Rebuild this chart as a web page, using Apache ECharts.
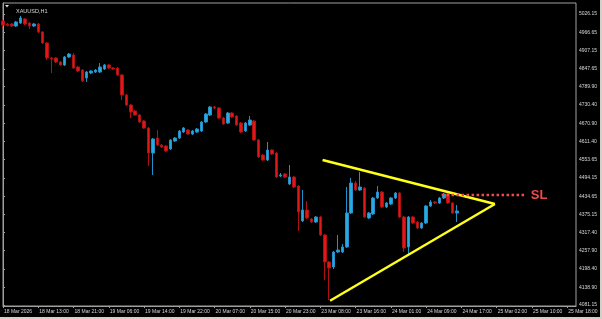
<!DOCTYPE html>
<html>
<head>
<meta charset="utf-8">
<script src="https://cdn.jsdelivr.net/npm/echarts@6/dist/echarts.min.js"></script>
<style>
html,body{margin:0;padding:0;background:#000;}
#c{width:602px;height:319px;}
</style>
</head>
<body>
<div id="c"></div>
<script>
// ---- data ----
const symbolTitle = 'XAUUSD,H1';
const timeLabels = ['18 Mar 2026','18 Mar 13:00','18 Mar 21:00','19 Mar 06:00','19 Mar 14:00','19 Mar 22:00',
  '20 Mar 07:00','20 Mar 15:00','20 Mar 23:00','23 Mar 08:00','23 Mar 16:00','24 Mar 01:00',
  '24 Mar 09:00','24 Mar 17:00','25 Mar 02:00','25 Mar 10:00','25 Mar 18:00'];
const priceTicks = [4081.15,4138.90,4198.40,4257.90,4317.40,4375.15,4434.65,4494.15,4553.65,
  4611.40,4670.90,4730.40,4789.90,4847.65,4907.15,4966.65,5026.15];
// candles: [open, close, low, high]
const candles = [
 [5003.4,4990.4,4983.9,5009.9],[4993.0,4989.0,4986.0,4997.0],[4993.7,4987.2,4984.0,4997.0],[4987.2,5000.2,4984.0,5003.4],
 [4997.0,5013.1,4993.7,5019.6],[5010.0,4993.7,4990.4,5013.0],[4996.9,4987.2,4977.4,5000.0],[4987.2,4993.7,4984.0,4997.0],
 [4993.7,4967.7,4964.4,4997.0],[4967.7,4932.0,4928.7,4971.0],[4932.0,4883.3,4876.8,4935.2],[4883.3,4880.0,4834.5,4886.5],
 [4883.3,4870.3,4867.0,4886.5],[4870.3,4860.5,4857.3,4873.5],[4860.5,4886.5,4857.3,4889.7],[4886.5,4896.2,4883.3,4899.4],
 [4893.0,4850.8,4847.5,4899.4],[4854.0,4841.0,4837.8,4857.3],[4844.3,4808.6,4805.3,4847.5],[4818.3,4837.8,4805.3,4841.0],
 [4834.5,4841.0,4831.3,4844.3],[4837.8,4844.3,4834.5,4847.5],[4837.8,4854.0,4834.5,4867.0],[4847.5,4860.5,4844.3,4863.8],
 [4860.5,4850.8,4847.5,4863.8],[4850.8,4847.5,4844.3,4854.0],[4850.8,4828.0,4824.8,4854.0],[4828.0,4763.1,4746.9,4831.3],
 [4763.1,4730.6,4727.4,4766.4],[4730.6,4707.9,4688.4,4733.9],[4711.1,4698.1,4694.9,4714.4],[4698.1,4675.4,4672.2,4701.4],
 [4678.7,4655.9,4652.7,4681.9],[4655.9,4574.7,4532.5,4659.2],[4574.7,4620.2,4503.3,4623.5],[4623.5,4600.7,4597.5,4649.4],
 [4600.7,4594.2,4591.0,4604.0],[4597.5,4581.2,4578.0,4600.7],[4587.7,4617.0,4584.5,4620.2],[4613.7,4623.5,4610.5,4626.7],
 [4623.5,4646.2,4620.2,4649.4],[4642.9,4655.9,4639.7,4659.2],[4649.4,4636.4,4633.2,4652.7],[4636.4,4646.2,4633.2,4649.4],
 [4642.9,4652.7,4639.7,4655.9],[4646.2,4675.4,4642.9,4678.7],[4675.4,4701.4,4672.2,4704.6],[4698.1,4724.1,4694.9,4727.4],
 [4724.1,4720.9,4717.6,4727.4],[4720.9,4688.4,4685.0,4724.1],[4688.4,4668.9,4665.7,4691.7],[4672.2,4704.6,4668.9,4707.9],
 [4704.6,4691.7,4688.4,4707.9],[4694.9,4665.7,4662.4,4698.1],[4672.2,4642.9,4639.7,4675.4],[4646.2,4672.2,4642.9,4675.4],
 [4665.7,4681.9,4662.4,4694.9],[4678.7,4617.0,4613.7,4681.9],[4617.0,4561.8,4558.5,4620.2],[4568.3,4552.0,4548.8,4571.5],
 [4552.0,4584.5,4548.8,4610.5],[4584.5,4571.5,4568.3,4587.7],[4574.7,4496.8,4493.6,4578.0],[4500.1,4503.3,4496.8,4509.8],
 [4506.6,4496.8,4493.6,4509.8],[4474.1,4496.8,4470.8,4535.8],[4496.8,4464.3,4461.1,4500.1],[4467.6,4383.2,4321.5,4470.8],
 [4353.9,4389.6,4350.7,4454.6],[4389.6,4363.7,4360.4,4418.9],[4360.4,4350.7,4347.4,4363.7],[4350.7,4366.9,4347.4,4370.2],
 [4366.9,4308.5,4305.2,4370.2],[4308.5,4220.8,4162.3,4311.7],[4220.8,4201.3,4097.4,4224.0],[4204.5,4253.3,4198.0,4256.5],
 [4253.3,4259.7,4250.0,4308.5],[4253.3,4269.5,4250.0,4279.0],[4269.5,4379.9,4266.2,4464.3],[4379.9,4477.3,4376.7,4493.6],
 [4477.3,4454.6,4451.3,4483.8],[4454.6,4464.3,4451.3,4513.0],[4461.1,4366.9,4363.7,4464.3],[4363.7,4379.9,4360.4,4383.2],
 [4376.7,4428.6,4373.4,4431.9],[4428.6,4448.1,4425.4,4467.6],[4448.1,4399.4,4396.1,4451.3],[4399.4,4412.4,4396.1,4415.6],
 [4409.1,4428.6,4405.9,4431.9],[4428.6,4444.9,4425.4,4448.1],[4444.9,4366.9,4363.7,4448.1],[4366.9,4266.2,4253.3,4370.2],
 [4269.5,4366.9,4246.8,4370.2],[4366.9,4347.4,4344.2,4370.2],[4350.7,4331.2,4327.9,4353.9],[4331.2,4347.4,4327.9,4350.7],
 [4347.4,4402.6,4344.2,4405.9],[4402.6,4415.6,4399.4,4422.0],[4415.6,4412.4,4409.1,4418.9],[4412.4,4428.6,4409.1,4431.9],
 [4428.6,4441.6,4425.4,4444.9],[4441.6,4412.4,4409.1,4444.9],[4412.4,4379.9,4376.7,4415.6],[4379.9,4386.4,4350.7,4405.9]
];
const slotCount = 131;          // bar slots visible incl. future space
const labelEvery = 8;
// drawn objects (bar index, price)
const upperTrend = [[72.5, 4552.0], [111.6, 4409.1]];
const lowerTrend = [[74.2, 4095.1], [111.6, 4409.1]];
const slLine = [[99.5, 4438.4], [118.4, 4438.4]];
const slText = 'SL';

// ---- chart ----
const categories = [];
for (let i = 0; i < slotCount; i++) {
  categories.push(i % labelEvery === 0 ? (timeLabels[i / labelEvery] || '') : '');
}
const chart = echarts.init(document.getElementById('c'), null, {renderer: 'canvas'});
const axisGray = '#a0a0a0';
const textGray = '#d8d8d8';
chart.setOption({
  backgroundColor: '#000',
  animation: false,
  title: {
    text: symbolTitle, left: 11, top: 3,
    textStyle: {color: textGray, fontSize: 5.5, fontWeight: 'normal', fontFamily: 'Liberation Sans'}
  },
  grid: {left: 3, right: 26, top: 3, bottom: 13, show: true, borderColor: axisGray, borderWidth: 1, backgroundColor: 'transparent'},
  xAxis: [{
    type: 'category', data: categories, boundaryGap: false,
    axisLine: {show: true, lineStyle: {color: axisGray, width: 1}},
    axisTick: {show: true, interval: labelEvery - 1, length: 2, inside: false, lineStyle: {color: axisGray}},
    axisLabel: {show: true, interval: labelEvery - 1, align: 'left', margin: 3, color: textGray, fontSize: 5, fontFamily: 'Liberation Sans', padding: [0,0,0,1]},
    splitLine: {show: false}
  }, {
    type: 'value', min: 0, max: slotCount - 1, show: false
  }],
  yAxis: {
    type: 'value', position: 'right', min: 4077.9, max: 5061.86, scale: true,
    axisLine: {show: true, lineStyle: {color: axisGray, width: 1}},
    axisTick: {show: true, length: 2, customValues: priceTicks, lineStyle: {color: axisGray}},
    axisLabel: {show: true, customValues: priceTicks, margin: 3, color: textGray, fontSize: 5, fontFamily: 'Liberation Sans',
      formatter: v => Number(v).toFixed(2)},
    splitLine: {show: false}
  },
  series: [{
    type: 'candlestick', xAxisIndex: 0, data: candles, barWidth: 3,
    itemStyle: {color: '#2aa8e0', color0: '#e01818', borderColor: '#2290c8', borderColor0: '#b01010', borderWidth: 1}
  }, {
    type: 'line', xAxisIndex: 1, data: upperTrend, symbol: 'none', silent: true,
    lineStyle: {color: '#ffff1a', width: 2.5}
  }, {
    type: 'line', xAxisIndex: 1, data: lowerTrend, symbol: 'none', silent: true,
    lineStyle: {color: '#ffff1a', width: 2.5}
  }, {
    type: 'line', xAxisIndex: 1, data: slLine, symbol: 'none', silent: true,
    lineStyle: {color: '#f04a4a', width: 2.5, type: [2.5, 2.5]},
    endLabel: {show: true, formatter: slText, color: '#f04a4a', fontSize: 13, fontWeight: 'bold', fontFamily: 'Liberation Sans', distance: 6}
  }],
  graphic: [
    {type: 'polygon', shape: {points: [[5,5],[9,5],[7,7.5]]}, style: {fill: textGray}},
    {type: 'rect', shape: {x: 600, y: 0, width: 2, height: 319}, style: {fill: '#d4d0c8'}},
    {type: 'rect', shape: {x: 0, y: 317, width: 602, height: 2}, style: {fill: '#d4d0c8'}}
  ]
});
</script>
</body>
</html>
